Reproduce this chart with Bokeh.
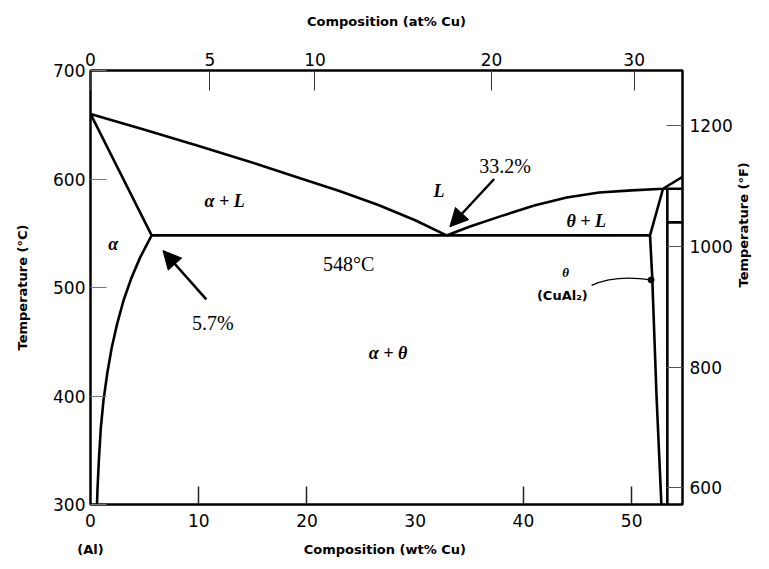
import math
from bokeh.plotting import figure
from bokeh.models import Range1d, LinearAxis, FixedTicker, Arrow, NormalHead
from bokeh.embed import file_html
from bokeh.resources import INLINE
from bokeh.core.properties import value

# ---------------- data (wt% Cu, temperature in degC) ----------------
liq_left_wt = [0, 5, 10, 15, 19.3, 23, 26.6, 30, 32.9]
liq_left_T = [660, 645.5, 630.5, 615, 601, 589, 576, 562, 548]
solidus_wt = [0, 5.65]
solidus_T = [660, 548]
solvus_wt = [5.65, 4.6, 3.75, 3.05, 2.45, 1.95, 1.55, 1.2, 0.95, 0.78, 0.65, 0.6]
solvus_T = [548, 528, 508, 488, 466, 444, 421, 396, 370, 342, 315, 300]
eutectic_wt = [5.65, 51.7]
eutectic_T = [548, 548]
liq_right_wt = [32.9, 35, 38, 41, 44, 47, 50, 52.9, 54.7]
liq_right_T = [548, 556, 566, 575.5, 583, 587.5, 589.5, 591, 602]
theta_left_wt = [52.9, 51.7, 51.9, 52.3, 52.75]
theta_left_T = [591, 548, 510, 400, 300]
theta_right_wt = [53.3, 53.3]
theta_right_T = [591, 300]
perit_wt = [52.9, 54.7]
perit_T = [591, 591]
eta_wt = [53.3, 54.7]
eta_T = [560, 560]

wt_ticks = [0, 10, 20, 30, 40, 50]
wt_tick_marks = [10, 20, 40, 50]
at_ticks = [0, 5, 10, 20, 30]
C_ticks = [300, 400, 500, 600, 700]
F_ticks = [600, 800, 1000, 1200]

X_MAX = 54.7
T_MIN, T_MAX = 300, 700

# region labels
lab_greek = ["α", "α + L", "L", "θ + L", "α + θ"]
lab_greek_x = [2.1, 12.4, 32.2, 45.8, 27.5]
lab_greek_y = [540, 580, 589, 561, 440]
lab_val = ["33.2%", "548°C", "5.7%"]
lab_val_x = [38.3, 23.85, 11.3]
lab_val_y = [612, 522, 467]

M_CU, M_AL = 63.55, 26.98


def at_to_wt(a):
    return round(100.0 * a * M_CU / (a * M_CU + (100 - a) * M_AL), 4)


def c_to_f(c):
    return c * 9.0 / 5.0 + 32.0


p = figure(width=761, height=561, x_range=Range1d(0, X_MAX), y_range=Range1d(T_MIN, T_MAX),
           output_backend="svg", toolbar_location=None,
           min_border_left=90, min_border_right=75, min_border_top=70, min_border_bottom=57)
p.xgrid.visible = False
p.ygrid.visible = False
p.outline_line_color = "black"
p.outline_line_width = 2.5
p.background_fill_color = "white"
p.border_fill_color = "white"

TICK_FONT = "DejaVu Sans"
TICK_SIZE = "17px"
LAB_FONT = "DejaVu Sans"
LAB_SIZE = "13px"
INK = "black"

# bottom axis (tick labels only)
xa = p.xaxis[0]
xa.ticker = FixedTicker(ticks=wt_ticks, minor_ticks=wt_tick_marks)
xa.axis_line_color = None
xa.major_tick_in = 0
xa.major_tick_out = 0
xa.minor_tick_in = 18
xa.minor_tick_out = 0
xa.minor_tick_line_color = "#222222"
xa.minor_tick_line_width = 1.5
xa.major_label_text_font = TICK_FONT
xa.major_label_text_font_size = TICK_SIZE
xa.major_label_text_color = INK
xa.major_label_standoff = 9

# second bottom row: "(Al)" and the axis title on one line
bottom_words = ["(Al)", "Composition (wt% Cu)"]
bottom_pos = [0.0, 27.2]
xb = LinearAxis(ticker=FixedTicker(ticks=bottom_pos),
                major_label_overrides={pos: w for pos, w in zip(bottom_pos, bottom_words)})
xb.axis_line_color = None
xb.major_tick_line_color = None
xb.minor_tick_line_color = None
xb.major_tick_in = 0
xb.major_tick_out = 0
xb.major_label_text_font = LAB_FONT
xb.major_label_text_font_size = LAB_SIZE
xb.major_label_text_font_style = "bold"
xb.major_label_text_color = INK
xb.major_label_standoff = 12
p.add_layout(xb, "below")

# left axis
ya = p.yaxis[0]
ya.ticker = FixedTicker(ticks=C_ticks)
ya.axis_line_color = None
ya.major_tick_in = 16
ya.major_tick_out = 0
ya.major_tick_line_color = "#777777"
ya.minor_tick_line_color = None
ya.major_label_text_font = TICK_FONT
ya.major_label_text_font_size = TICK_SIZE
ya.major_label_text_color = INK
ya.major_label_standoff = 5
ya.axis_label = "Temperature (°C)"
ya.axis_label_text_font = LAB_FONT
ya.axis_label_text_font_size = LAB_SIZE
ya.axis_label_text_font_style = "bold"
ya.axis_label_text_color = INK
ya.axis_label_standoff = 20

# top axis (at% Cu)
at_pos = [at_to_wt(a) for a in at_ticks]
top = LinearAxis(ticker=FixedTicker(ticks=at_pos),
                 major_label_overrides={pos: str(a) for pos, a in zip(at_pos, at_ticks)})
top.axis_line_color = None
top.major_tick_in = 20
top.major_tick_out = 0
top.major_tick_line_color = "#333333"
top.minor_tick_line_color = None
top.major_label_text_font = TICK_FONT
top.major_label_text_font_size = TICK_SIZE
top.major_label_text_color = INK
top.major_label_standoff = 5
top.axis_label = "Composition (at% Cu)"
top.axis_label_text_font = LAB_FONT
top.axis_label_text_font_size = LAB_SIZE
top.axis_label_text_font_style = "bold"
top.axis_label_text_color = INK
top.axis_label_standoff = 21
p.add_layout(top, "above")

# right axis (degF)
p.extra_y_ranges = {"F": Range1d(c_to_f(T_MIN), c_to_f(T_MAX))}
right = LinearAxis(y_range_name="F", ticker=FixedTicker(ticks=F_ticks))
right.axis_line_color = None
right.major_tick_in = 16
right.major_tick_out = 0
right.major_tick_line_color = "#555555"
right.minor_tick_line_color = None
right.major_label_text_font = TICK_FONT
right.major_label_text_font_size = TICK_SIZE
right.major_label_text_color = INK
right.major_label_standoff = 7
right.axis_label = "Temperature (°F)"
right.axis_label_text_font = LAB_FONT
right.axis_label_text_font_size = LAB_SIZE
right.axis_label_text_font_style = "bold"
right.axis_label_text_color = INK
right.axis_label_standoff = 8
if "axis_label_orientation" in right.properties():
    right.axis_label_orientation = math.pi / 2
p.add_layout(right, "right")

# phase boundaries
LW = 2.6
for xs, ys in [(liq_left_wt, liq_left_T), (solidus_wt, solidus_T), (solvus_wt, solvus_T),
               (eutectic_wt, eutectic_T), (liq_right_wt, liq_right_T),
               (theta_left_wt, theta_left_T), (theta_right_wt, theta_right_T),
               (perit_wt, perit_T), (eta_wt, eta_T)]:
    p.line(xs, ys, line_color="black", line_width=LW, line_join="round")

# region labels
p.text(lab_greek_x, lab_greek_y, text=lab_greek, text_font=value("Liberation Serif"),
       text_font_size="18px", text_font_style="bold italic", text_align="center",
       text_baseline="middle", text_color="black")
p.text(lab_val_x, lab_val_y, text=lab_val, text_font=value("Liberation Serif"),
       text_font_size="20px", text_align="center", text_baseline="middle", text_color="black")
p.text([43.9], [514], text=["θ"], text_font=value("Liberation Serif"),
       text_font_size="13px", text_font_style="bold italic", text_align="center",
       text_baseline="middle", text_color="black")
p.text([43.6], [493], text=["(CuAl₂)"], text_font=value("DejaVu Sans"),
       text_font_size="13px", text_font_style="bold", text_align="center",
       text_baseline="middle", text_color="black")

# arrows
p.add_layout(Arrow(end=NormalHead(size=18, fill_color="black", line_color="black"),
                   x_start=37.3, y_start=600, x_end=33.2, y_end=556,
                   line_width=2.5, line_color="black"))
p.add_layout(Arrow(end=NormalHead(size=18, fill_color="black", line_color="black"),
                   x_start=10.7, y_start=489, x_end=6.7, y_end=534,
                   line_width=2.5, line_color="black"))

# curved pointer to theta phase
p.quadratic(x0=[46.3], y0=[502], x1=[51.8], y1=[507], cx=[48.5], cy=[512],
            line_color="black", line_width=1.3)
p.scatter([51.8], [507], size=6, color="black")

open("out.html", "w").write(file_html(p, INLINE))
